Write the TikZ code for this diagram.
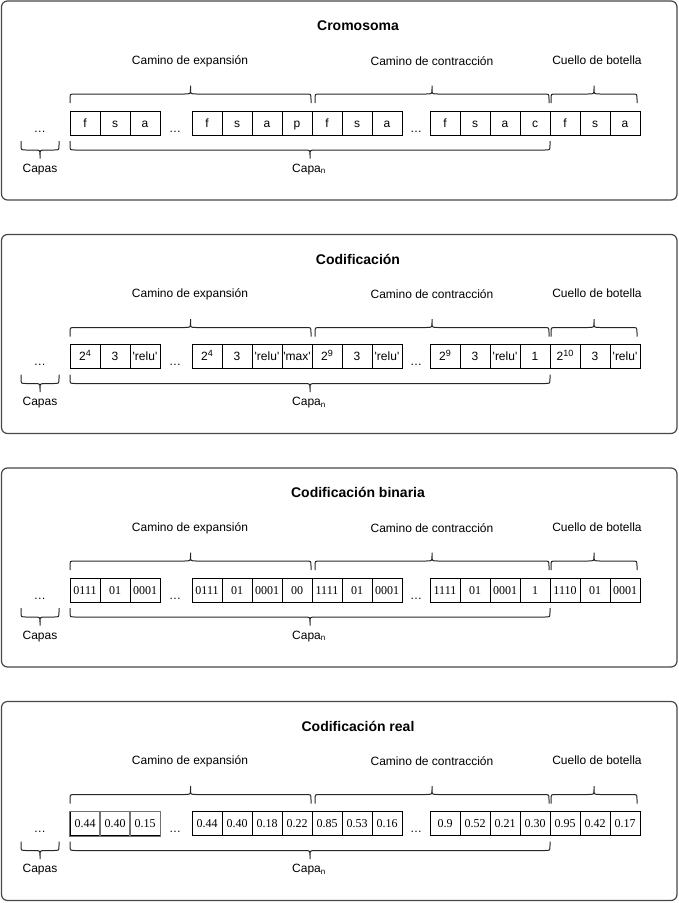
\documentclass[tikz,border=0pt]{standalone}
\usepackage{fontspec}
\setmainfont{Liberation Sans}
\newfontfamily\serifcell{Liberation Serif}
\tikzset{
  panel/.style={draw=black!72, line width=1.2pt, rounded corners=6pt},
  cellA/.style={draw=black, line width=0.8pt, minimum width=30pt, minimum height=24pt,
    inner sep=0pt, text height=8.6pt, text depth=0pt, font=\fontsize{12}{14}\selectfont},
  cellB/.style={cellA, font=\fontsize{12}{14}\selectfont\serifcell},
  lbl/.style={font=\fontsize{12}{14}\selectfont, inner sep=0pt},
  ttl/.style={font=\fontsize{14}{16}\selectfont\bfseries, inner sep=0pt},
  brace/.style={draw=black!85, line width=1pt},
}
% upper brace: x1, x2, tip x
\newcommand\ubr[3]{%
  \draw[brace] (#1,103) -- (#1,99) .. controls (#1,94) .. (#1+5,94) -- (#3-6,94)
    .. controls (#3,94) .. (#3,89) -- (#3,85.5)
    (#3,89) .. controls (#3,94) .. (#3+6,94) -- (#2-5,94)
    .. controls (#2,94) .. (#2,99) -- (#2,103);}
% lower brace: x1, x2, tip x
\newcommand\lbr[3]{%
  \draw[brace] (#1,141) -- (#1,145) .. controls (#1,150) .. (#1+5,150) -- (#3-6,150)
    .. controls (#3,150) .. (#3,155) -- (#3,158.5)
    (#3,155) .. controls (#3,150) .. (#3+6,150) -- (#2-5,150)
    .. controls (#2,150) .. (#2,145) -- (#2,141);}
% panel: index, y shift, title, cell style, cell list
\newcommand\pnl[5]{%
  \begin{scope}[shift={(0,#2)}]
    \draw[panel] (1.5,1) rectangle (677,200);
    \node[ttl, anchor=base] (t#1) at (358,30.5) {#3};
    \node[lbl, anchor=base] (e#1) at (190,64) {Camino de expansión};
    \node[lbl, anchor=base] (k#1) at (432,65) {Camino de contracción};
    \node[lbl, anchor=base] (b#1) at (597,64) {Cuello de botella};
    \foreach \x/\t [count=\i] in {#5} \node[#4] (c#1-\i) at (\x+15,123) {\t};
    \node[lbl, anchor=base] (da#1) at (40,132) {…};
    \node[lbl, anchor=base] (db#1) at (175,132) {…};
    \node[lbl, anchor=base] (dc#1) at (416,132) {…};
    \ubr{70}{311}{190.5}
    \ubr{315}{549}{432}
    \ubr{551}{637}{594}
    \lbr{70}{550}{310}
    \lbr{21}{59}{40}
    \node[lbl, anchor=base] (cs#1) at (40,172) {Capas};
    \node[lbl, anchor=base] (cn#1) at (309,172) {Capa\textsubscript{n}};
  \end{scope}}
\newcommand\q{\textquotesingle}
\newcommand\sups[1]{\raisebox{4.2pt}{\fontsize{9}{10}\selectfont #1}}
\begin{document}
\begin{tikzpicture}[x=1pt, y=-1pt]
  \useasboundingbox (0,0) rectangle (679,903);
  \pnl{1}{0}{Cromosoma}{cellA}{70/f,100/s,130/a,192/f,222/s,252/a,282/p,312/f,342/s,372/a,430/f,460/s,490/a,520/c,550/f,580/s,610/a}
  \pnl{2}{233.5}{Codificación}{cellA}{70/2\sups{4},100/3,130/\q relu\q,192/2\sups{4},222/3,252/\q relu\q,282/\q max\q,312/2\sups{9},342/3,372/\q relu\q,430/2\sups{9},460/3,490/\q relu\q,520/1,550/2\sups{10},580/3,610/\q relu\q}
  \pnl{3}{467}{Codificación binaria}{cellB}{70/0111,100/01,130/0001,192/0111,222/01,252/0001,282/00,312/1111,342/01,372/0001,430/1111,460/01,490/0001,520/1,550/1110,580/01,610/0001}
  \pnl{4}{700.5}{Codificación real}{cellB}{70/0.44,100/0.40,130/0.15,192/0.44,222/0.40,252/0.18,282/0.22,312/0.85,342/0.53,372/0.16,430/0.9,460/0.52,490/0.21,520/0.30,550/0.95,580/0.42,610/0.17}
  \foreach \i in {1,2,3}
    \draw[draw=black!55, line width=0.8pt] (c4-\i.north west) rectangle (c4-\i.south east);
\end{tikzpicture}
\end{document}
